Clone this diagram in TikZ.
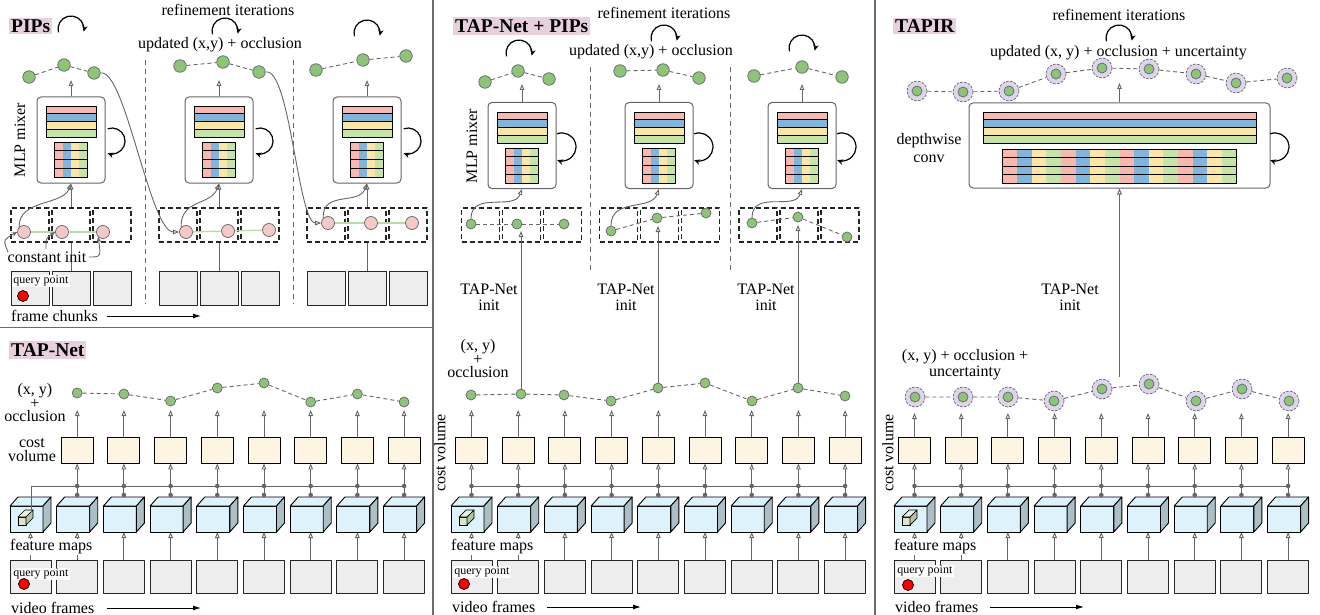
\documentclass[tikz,border=0pt]{standalone}
\usepackage{fontspec}
\setmainfont{Liberation Serif}
\usetikzlibrary{arrows.meta}
\definecolor{cr}{HTML}{F8B8AE}
\definecolor{cb}{HTML}{7FB6E0}
\definecolor{cy}{HTML}{FBE7A1}
\definecolor{cg}{HTML}{C6E4A6}
\definecolor{dotg}{HTML}{8DC477}
\definecolor{dotp}{HTML}{F5C8C8}
\definecolor{cvf}{HTML}{FDF5E1}
\definecolor{cubef}{HTML}{DDF2FB}
\definecolor{cubes}{HTML}{ADBFC6}
\definecolor{frf}{HTML}{EDEDED}
\definecolor{lbg}{HTML}{E8D1DD}
\definecolor{halof}{HTML}{DCD5EC}
\definecolor{lg}{HTML}{666666}
\definecolor{pl}{HTML}{B8DDA6}
\definecolor{qf}{HTML}{D9E6CC}
\definecolor{qs}{HTML}{B3C3A6}
\tikzset{
 txt/.style={font=\fontsize{16}{16}\selectfont, inner sep=0pt, align=center},
 txtt/.style={font=\fontsize{16}{13.5}\selectfont, inner sep=0pt, align=center},
 qp/.style={font=\fontsize{12}{12}\selectfont, fill=white, inner sep=1.2pt, anchor=west},
 ttl/.style={font=\fontsize{19.5}{20}\selectfont\bfseries, fill=lbg, inner sep=2pt, anchor=west},
 conn/.style={draw=lg, line width=0.9pt, -{Triangle[open,length=6pt,width=4.6pt]}},
 sarr/.style={draw=lg, line width=0.9pt, -{Stealth[length=5.5pt,width=4.5pt]}},
 bigarr/.style={draw=black, line width=1pt, -{Latex[length=8pt,width=5pt]}},
 loopar/.style={draw=black, line width=1.2pt, -{Stealth[length=6pt,width=5.5pt]}},
 dline/.style={draw=lg, line width=0.9pt, dash pattern=on 4pt off 3pt},
 pline/.style={draw=pl, line width=1.3pt},
 sep/.style={draw=gray!85!black, line width=1.3pt},
 dsep/.style={draw=lg, line width=1pt, dash pattern=on 5pt off 4pt},
 gdot/.style={circle, fill=dotg, draw=lg, line width=0.7pt, minimum size=12.5pt, inner sep=0pt},
 gdots/.style={gdot, minimum size=10pt},
 pdot/.style={circle, fill=dotp, draw=lg, line width=0.7pt, minimum size=13pt, inner sep=0pt},
 halo/.style={circle, fill=halof, draw=lg, line width=0.7pt, dash pattern=on 2.5pt off 1.5pt, minimum size=20pt, inner sep=0pt},
 rdot/.style={circle, fill=red, draw=black, line width=0.7pt, minimum size=11pt, inner sep=0pt},
 cv/.style={rectangle, fill=cvf, draw=black, line width=0.9pt, minimum width=32pt, minimum height=26pt, inner sep=0pt},
 frm/.style={rectangle, fill=frf, draw=black!85, line width=0.9pt, minimum width=41pt, minimum height=33pt, inner sep=0pt},
 pfrm/.style={frm, minimum width=38pt, minimum height=34pt},
 dbox/.style={rectangle, fill=white, draw=black!85, line width=1.1pt, dash pattern=on 5pt off 3pt, minimum width=38pt, minimum height=34pt, inner sep=0pt},
 mlp/.style={rectangle, rounded corners=4pt, fill=white, draw=lg, line width=1pt, minimum width=68pt, minimum height=86pt, inner sep=0pt},
 junc/.style={circle, fill=lg, inner sep=0pt, minimum size=4.6pt},
 toparc/.style={loopar, start angle=165, end angle=372, radius=13},
 mlpin/.pic={
  \foreach \cl [count=\k from 0] in {cr,cb,cy,cg}{
   \filldraw[fill=\cl, draw=black, line width=0.9pt] (-25,{9+7.75*\k}) rectangle (25,{16.75+7.75*\k});
  }
  \foreach \cl [count=\k from 0] in {cr,cb,cy,cg}{
   \fill[\cl] ({-16.5+8.25*\k},45) rectangle ({-8.25+8.25*\k},80);
  }
  \foreach \r in {45,53.75,62.5,71.25,80}{\draw[line width=0.9pt] (-16.5,\r) -- (16.5,\r);}
  \draw[line width=0.9pt] (-16.5,45) rectangle (16.5,80);
 },
 tapirin/.pic={
  \foreach \cl [count=\k from 0] in {cr,cb,cy,cg}{
   \filldraw[fill=\cl, draw=black, line width=0.9pt] (-136.5,{9+7.75*\k}) rectangle (136.5,{16.75+7.75*\k});
  }
  \foreach \q in {0,1,2,3}{
   \foreach \cl [count=\k from 0] in {cr,cb,cy,cg}{
    \fill[\cl] ({-117+58.5*\q+14.625*\k},46) rectangle ({-117+58.5*\q+14.625*(\k+1)},80);
   }
  }
  \foreach \r in {46,54.5,63,71.5,80}{\draw[line width=0.9pt] (-117,\r) -- (117,\r);}
  \draw[line width=0.9pt] (-117,46) rectangle (117,80);
 },
 cube/.pic={
  \filldraw[fill=cubef, draw=black, line width=0.9pt] (0,0) rectangle (33,26);
  \filldraw[fill=cubef, draw=black, line width=0.9pt] (0,0) -- (8,-9) -- (41,-9) -- (33,0) -- cycle;
  \filldraw[fill=cubes, draw=black, line width=0.9pt] (33,0) -- (41,-9) -- (41,17) -- (33,26) -- cycle;
 },
 qbox/.pic={
  \filldraw[fill=qf, draw=black, line width=0.7pt] (8,11) rectangle (16,19);
  \filldraw[fill=qf!60!white, draw=black, line width=0.7pt] (8,11) -- (15,4) -- (23,4) -- (16,11) -- cycle;
  \filldraw[fill=qs, draw=black, line width=0.7pt] (16,11) -- (23,4) -- (23,12) -- (16,19) -- cycle;
 }
}
\newcommand{\toploop}[2]{\draw[loopar] ({#1-12.56},{#2+3.36}) arc[start angle=165, end angle=372, radius=13];}
\begin{document}
\begin{tikzpicture}[x=1pt,y=-1pt,line join=round]
\useasboundingbox (0,0) rectangle (1320,615);
% ---------- separators
\draw[sep] (433,0) -- (433,615);
\draw[sep] (875,0) -- (875,615);
\draw[sep] (0,327.5) -- (433,327.5);

% =================== PIPs ===================
\node[ttl] (tPIPs) at (9,26) {PIPs};
\toploop{71}{29}
\node[txt] (pref) at (228,10) {refinement iterations};
\toploop{225}{31}
\node[txt] (pupd) at (220,45) {updated (x,y) + occlusion};
\toploop{367}{33}
\draw[dsep] (145,60) -- (145,304);
\draw[dsep] (293,60) -- (293,304);
\node[txt, rotate=90] (pmlpl) at (20,140) {MLP mixer};

\foreach \k/\cx in {1/71,2/219,3/367}{
  \foreach \j in {0,1,2}{
    \pgfmathsetmacro\fx{\cx+41*(\j-1)}
    \node[pfrm] (Pf\k\j) at (\fx,288) {};
  }
  \node[mlp] (Pm\k) at (\cx,140) {};
  \pic at (\cx,97) {mlpin};
  \draw[conn] (Pf\k1.north) -- (Pm\k.south);
  \foreach \j in {0,1,2}{
    \pgfmathsetmacro\fx{\cx+41*(\j-1)}
    \node[dbox] (Pb\k\j) at (\fx,225) {};
  }
  \coordinate (Pa\k) at (\cx,80);
  \draw[conn] (Pm\k.north) -- (Pa\k);
  \draw[loopar] ({\cx+36.6},128.8) arc[start angle=-110,end angle=110,radius=13];
}
% pink dots
\node[pdot] (Pp11) at (24,232) {};
\node[pdot] (Pp12) at (62,232) {};
\node[pdot] (Pp13) at (103,232) {};
\node[pdot] (Pp21) at (186,232) {};
\node[pdot] (Pp22) at (228,231) {};
\node[pdot] (Pp23) at (269,230) {};
\node[pdot] (Pp31) at (328,223) {};
\node[pdot] (Pp32) at (371,223) {};
\node[pdot] (Pp33) at (412,223) {};
\foreach \k in {1,2,3}{
  \draw[pline] (Pp\k1) -- (Pp\k2) -- (Pp\k3);
  \draw[conn] (Pp\k1.north west) .. controls +(-1,-28) and +(-8,22) .. (Pm\k.south);
}
% green dots top
\node[gdot] (Pg11) at (29,77) {};
\node[gdot] (Pg12) at (64,65) {};
\node[gdot] (Pg13) at (94,73) {};
\node[gdot] (Pg21) at (180,66) {};
\node[gdot] (Pg22) at (223,62) {};
\node[gdot] (Pg23) at (259,72) {};
\node[gdot] (Pg31) at (316,70) {};
\node[gdot] (Pg32) at (363,60) {};
\node[gdot] (Pg33) at (406,56) {};
\foreach \k in {1,2,3}{\draw[dline] (Pg\k1) -- (Pg\k2) -- (Pg\k3);}
\draw[conn] (Pg13.east) .. controls (125,68) and (150,232) .. (Pp21.west);
\draw[conn] (Pg23.east) .. controls (290,67) and (298,223) .. (Pp31.west);
% constant init
\node[txt] (cinit) at (47,257) {constant init};
\coordinate (ci1) at (8,252);
\coordinate (ci2) at (46,249);
\coordinate (ci3) at (89,257);
\draw[sarr] (ci1) .. controls (3,240) .. (Pp11.west);
\draw[sarr] (ci2) .. controls (46,238) .. (Pp12.west);
\draw[sarr] (ci3) .. controls (101,257) .. (Pp13.south west);
\node[qp] (pq) at (12,281) {query point};
\node[rdot] (prd) at (23,296) {};
\node[txt, anchor=west] (pfc) at (11,316) {frame chunks};
\coordinate (pfa) at (107,316); \coordinate (pfb) at (201,316);
\draw[bigarr] (pfa) -- (pfb);

% =================== TAP-Net (bottom left) ===================
\node[ttl] (tTAP) at (9,350) {TAP-Net};
\node[txtt] (lxy) at (35,403) {(x, y)\\+\\occlusion};
\node[txtt] (lcv) at (32,450) {cost\\volume};
\foreach \i in {0,...,8}{
  \pgfmathsetmacro\xa{10+46.7*\i}
  \pgfmathsetmacro\xc{\xa+20.5}
  \node[frm] (Lf\i) at (\xc,576.5) {};
  \coordinate (Lcb\i) at (\xc,532);
  \draw[conn] (Lf\i.north) -- (Lcb\i);
  \pic at (\xa,506) {cube};
}
\pic at (10,506) {qbox};
\coordinate (Lq) at (31,512);
\coordinate (Lbe) at (404.1,486);
\draw[draw=lg, line width=0.9pt] (Lq) |- (Lbe);
\foreach \i/\y in {1/393,2/394,3/401,4/388,5/383,6/402,7/394,8/402}{
  \pgfmathsetmacro\xc{30.5+46.7*\i}
  \node[cv] (Lcv\i) at (\xc,450) {};
  \coordinate (Lct\i) at (\xc,497);
  \draw[conn] (Lct\i) -- (Lcv\i.south);
  \node[junc] at (\xc,486) {};
  \node[junc] at (\xc,495) {};
  \coordinate (La\i) at (\xc,410);
  \draw[conn] (Lcv\i.north) -- (La\i);
  \node[gdots] (Ld\i) at (\xc,\y) {};
}
\draw[dline] (Ld1)--(Ld2)--(Ld3)--(Ld4)--(Ld5)--(Ld6)--(Ld7)--(Ld8);
\node[txt, fill=white, anchor=west, inner sep=1pt] (lfm) at (9,547) {feature maps};
\node[qp] (lq) at (12,574) {query point};
\node[rdot] (lrd) at (24,584) {};
\node[txt, anchor=west] (lvf) at (11,608) {video frames};
\coordinate (lva) at (107,608); \coordinate (lvb) at (201,608);
\draw[bigarr] (lva) -- (lvb);

% =================== TAP-Net + PIPs (middle) ===================
\node[ttl] (tMid) at (453,26) {TAP-Net + PIPs};
\node[txt] (mref) at (664,13) {refinement iterations};
\toploop{664}{38}
\node[txt] (mupd) at (651,52) {updated (x,y) + occlusion};
\toploop{519}{53}
\toploop{802}{48}
\draw[dsep] (590,67) -- (590,272);
\draw[dsep] (730,67) -- (730,272);
\node[txt, rotate=90] (mmlpl) at (472,146) {MLP mixer};
\foreach \k/\cx/\dx in {1/522/521.5,2/659/659.5,3/802/799}{
  \node[mlp] (Mm\k) at (\cx,145.5) {};
  \pic at (\cx,103) {mlpin};
  \coordinate (Ma\k) at (\cx,84);
  \draw[conn] (Mm\k.north) -- (Ma\k);
  \draw[loopar] ({\cx+35.2},133.8) arc[start angle=-110,end angle=110,radius=14];
  \foreach \j in {0,1,2}{
    \pgfmathsetmacro\fx{\dx+41*(\j-1)}
    \node[dbox] (Mb\k\j) at (\fx,225) {};
  }
}
% top green dots
\node[gdot] (Mg11) at (485,82) {};
\node[gdot] (Mg12) at (518,71) {};
\node[gdot] (Mg13) at (549,79) {};
\node[gdot] (Mg21) at (620,71) {};
\node[gdot] (Mg22) at (663,70) {};
\node[gdot] (Mg23) at (699,78) {};
\node[gdot] (Mg31) at (754,76) {};
\node[gdot] (Mg32) at (802,67) {};
\node[gdot] (Mg33) at (842,77) {};
\foreach \k in {1,2,3}{\draw[dline] (Mg\k1) -- (Mg\k2) -- (Mg\k3);}
% chunk dots
\node[gdots] (Mc11) at (471,224) {};
\node[gdots] (Mc12) at (517,224) {};
\node[gdots] (Mc13) at (564,224) {};
\node[gdots] (Mc21) at (611,231) {};
\node[gdots] (Mc22) at (657,218) {};
\node[gdots] (Mc23) at (706,213) {};
\node[gdots] (Mc31) at (752,223) {};
\node[gdots] (Mc32) at (798,217) {};
\node[gdots] (Mc33) at (847,237) {};
\foreach \k in {1,2,3}{
  \draw[dline] (Mc\k1) -- (Mc\k2) -- (Mc\k3);
  \draw[conn] (Mc\k1.north) .. controls +(0,-28) and +(-8,22) .. (Mm\k.south);
}
\node[txt] (mti1) at (489,297) {TAP-Net\\init};
\node[txt] (mti2) at (626,297) {TAP-Net\\init};
\node[txt] (mti3) at (766,297) {TAP-Net\\init};
\node[txtt] (mxy) at (478,359) {(x, y)\\+\\occlusion};
\node[txt, rotate=90] (mcvl) at (440,453) {cost volume};
% bottom columns
\foreach \i in {0,...,8}{
  \pgfmathsetmacro\xa{451+46.7*\i}
  \pgfmathsetmacro\xc{\xa+20.5}
  \node[frm] (Mf\i) at (\xc,577) {};
  \coordinate (Mcb\i) at (\xc,532);
  \draw[conn] (Mf\i.north) -- (Mcb\i);
  \pic at (\xa,506) {cube};
}
\pic at (451,506) {qbox};
\coordinate (Mbs) at (471.5,486);
\coordinate (Mbe) at (845.1,486);
\draw[draw=lg, line width=0.9pt] (Mbs) -- (Mbe);
\foreach \i/\x/\y in {0/471/395,1/521/394,2/564/395,3/611/401,4/658/388,5/705/383,6/752/401,7/798/388,8/845/396}{
  \pgfmathsetmacro\xc{471.5+46.7*\i}
  \node[cv] (Mcv\i) at (\xc,450) {};
  \coordinate (Mct\i) at (\xc,497);
  \draw[conn] (Mct\i) -- (Mcv\i.south);
  \node[junc] at (\xc,486) {};
  \node[junc] at (\xc,495) {};
  \coordinate (Mat\i) at (\xc,410);
  \draw[conn] (Mcv\i.north) -- (Mat\i);
  \node[gdots] (Md\i) at (\x,\y) {};
}
\draw[dline] (Md0)--(Md1)--(Md2)--(Md3)--(Md4)--(Md5)--(Md6)--(Md7)--(Md8);
\coordinate (Mt1) at (521,231);
\coordinate (Mt2) at (658,226);
\coordinate (Mt3) at (798,225);
\draw[conn] (Md1.north) -- (Mt1);
\draw[conn] (Md4.north) -- (Mt2);
\draw[conn] (Md7.north) -- (Mt3);
\node[txt, fill=white, anchor=west, inner sep=1pt] (mfm) at (450,547) {feature maps};
\node[qp] (mq) at (453,572) {query point};
\node[rdot] (mrd) at (464,584) {};
\node[txt, anchor=west] (mvf) at (452,607) {video frames};
\coordinate (mva) at (547,607); \coordinate (mvb) at (641,607);
\draw[bigarr] (mva) -- (mvb);

% =================== TAPIR (right) ===================
\node[ttl] (tTAPIR) at (893,26) {TAPIR};
\node[txt] (rref) at (1119,15) {refinement iterations};
\toploop{1119}{38}
\node[txt] (rupd) at (1118.5,53) {updated (x, y) + occlusion + uncertainty};
\node[mlp, minimum width=301pt, minimum height=85pt] (Rm) at (1119.5,145.5) {};
\pic at (1119.5,103) {tapirin};
\node[txt] (rdw) at (929,148) {depthwise\\[2pt]conv};
\draw[loopar] (1270.2,133.8) arc[start angle=-110,end angle=110,radius=14];
\coordinate (Ra) at (1119.5,83);
\draw[conn] (Rm.north) -- (Ra);
\foreach \i/\x/\y in {1/917/91,2/963/92,3/1009/91,4/1056/74,5/1102/68,6/1149/69,7/1196/74,8/1236/83,9/1287/78}{
  \node[halo] (Rh\i) at (\x,\y) {};
  \node[gdots] at (\x,\y) {};
}
\draw[dline] (Rh1)--(Rh2)--(Rh3)--(Rh4)--(Rh5)--(Rh6)--(Rh7)--(Rh8)--(Rh9);
\node[txt] (rti) at (1070,297) {TAP-Net\\init};
\node[txt] (rxy) at (965,365) {(x, y) + occlusion +\\uncertainty};
\node[txt, rotate=90] (rcvl) at (888,453) {cost volume};
\foreach \i in {0,...,8}{
  \pgfmathsetmacro\xa{894+46.7*\i}
  \pgfmathsetmacro\xc{\xa+20.5}
  \node[frm] (Rf\i) at (\xc,576.5) {};
  \coordinate (Rcb\i) at (\xc,532);
  \draw[conn] (Rf\i.north) -- (Rcb\i);
  \pic at (\xa,506) {cube};
}
\pic at (894,506) {qbox};
\coordinate (Rbs) at (914.5,486);
\coordinate (Rbe) at (1288.1,486);
\draw[draw=lg, line width=0.9pt] (Rbs) -- (Rbe);
\foreach \i/\x/\y in {0/915/397,1/963/397,2/1008/397,3/1054/401,4/1102/389,5/1149/384,6/1196/401,7/1242/389,8/1289/401}{
  \pgfmathsetmacro\xc{914.5+46.7*\i}
  \node[cv] (Rcv\i) at (\xc,450) {};
  \coordinate (Rct\i) at (\xc,497);
  \draw[conn] (Rct\i) -- (Rcv\i.south);
  \node[junc] at (\xc,486) {};
  \node[junc] at (\xc,495) {};
  \coordinate (Rat\i) at (\xc,413);
  \draw[conn] (Rcv\i.north) -- (Rat\i);
  \node[halo] (Rd\i) at (\x,\y) {};
  \node[gdots] at (\x,\y) {};
}
\draw[dline] (Rd0)--(Rd1)--(Rd2)--(Rd3)--(Rd4)--(Rd5)--(Rd6)--(Rd7)--(Rd8);
\coordinate (Rinit) at (1119.5,377);
\draw[conn] (Rinit) -- (Rm.south);
\node[txt, fill=white, anchor=west, inner sep=1pt] (rfm) at (893,547) {feature maps};
\node[qp] (rq) at (896,571) {query point};
\node[rdot] (rrd) at (908,585) {};
\node[txt, anchor=west] (rvf) at (895,607) {video frames};
\coordinate (rva) at (990,607); \coordinate (rvb) at (1084,607);
\draw[bigarr] (rva) -- (rvb);
\end{tikzpicture}
\end{document}
